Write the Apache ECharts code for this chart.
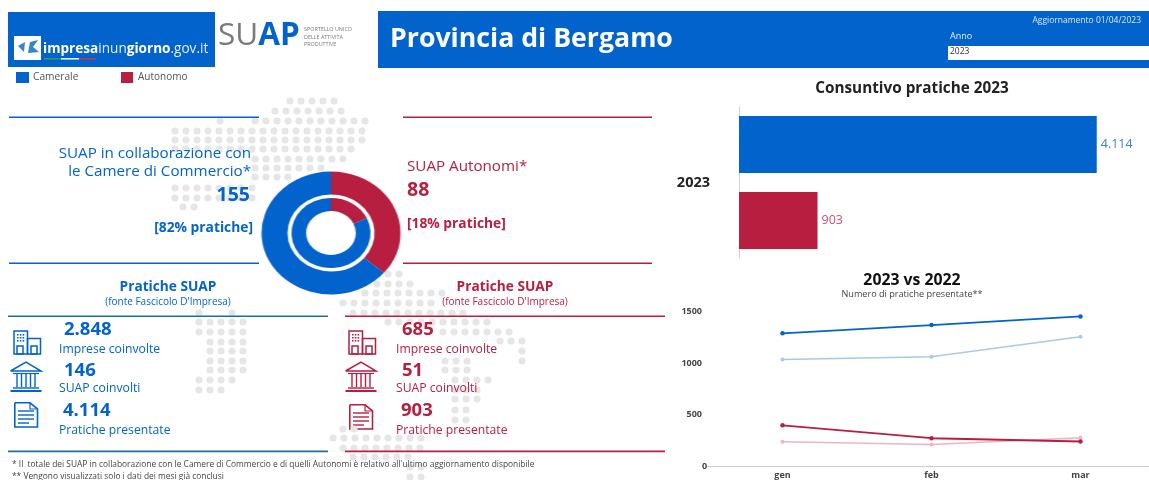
<!DOCTYPE html>
<html>
<head>
<meta charset="utf-8">
<title>Provincia di Bergamo</title>
<script src="https://cdn.jsdelivr.net/npm/echarts@6/dist/echarts.min.js"></script>
<style>
  html, body { margin: 0; padding: 0; background: #fff; overflow: hidden; }
  #page { position: relative; width: 1149px; height: 480px; overflow: hidden; filter: blur(0.35px); }
  /* a bit wider than the window: the last month band of the line chart runs off the edge */
  #main { position: absolute; left: 0; top: 0; width: 1200px; height: 480px; }
  /* the donut in the reference is stretched sideways */
  #donut { position: absolute; left: 265.5px; top: 167.5px; width: 130px; height: 130px; transform: scaleX(1.13); }
</style>
</head>
<body>
<div id="page">
  <div id="main"></div>
  <div id="donut"></div>
</div>
<script>
// ========== data ==========
const enteNames = ['Autonomo', 'Camerale']
const suapCount = [88, 155]
const praticheTotal = [903, 4114]
const impreseCoinvolte = [685, 2848]
const suapCoinvolti = [51, 146]
const percentPratiche = [18, 82]

const months = ['gen', 'feb', 'mar']
const camerale2023 = [1290, 1370, 1454]
const camerale2022 = [1035, 1061, 1257]
const autonomo2023 = [395, 270, 238]
const autonomo2022 = [236, 210, 275]
const lineTicks = { min: 0, max: 1500, interval: 500 }

const BLUE = '#0363cc'
const RED = '#b71e3f'
const FONT = '"Open Sans", "Noto Sans", sans-serif'

// background dot map: [y, first x, number of dots]
const dotRows = [
  [101, 290, 5], [111, 275, 7], [121, 220, 1], [121, 255, 11],
  [131, 175, 18], [140, 175, 18], [149, 175, 17], [159, 255, 9],
  [168, 255, 7], [177, 255, 4], [188, 175, 8], [198, 175, 8], [207, 183, 2],
  [274, 388, 2], [284, 377, 4], [293, 365, 8], [303, 343, 9], [313, 353, 11],
  [322, 388, 10], [332, 443, 7], [341, 500, 3], [351, 522, 1], [361, 522, 1],
  [361, 445, 3], [370, 445, 3], [380, 455, 4], [390, 455, 3], [399, 455, 3],
  [410, 455, 2], [420, 455, 2],
  [313, 199, 1], [313, 232, 1], [322, 199, 5], [332, 199, 5], [342, 210, 4],
  [351, 210, 4], [361, 210, 4], [370, 210, 4], [380, 199, 4], [390, 199, 3],
  [429, 343, 2], [438, 333, 9], [448, 343, 8], [457, 353, 6], [467, 410, 2], [477, 410, 2],
]

// 2848 -> 2.848
function fmt(n) {
  return String(n).replace(/\B(?=(\d{3})+$)/g, '.')
}

// ========== graphic helpers ==========
function txt(x, y, text, size, color, opts = {}) {
  return {
    type: 'text',
    x,
    y: y + 1,
    z: opts.z || 5,
    silent: true,
    style: {
      text,
      fontFamily: FONT,
      fontSize: size,
      fontWeight: opts.weight || 'normal',
      fill: color,
      align: opts.align || 'left',
      verticalAlign: 'middle',
      rich: opts.rich,
    },
  }
}

function box(x, y, w, h, color) {
  return { type: 'rect', z: 3, silent: true, shape: { x, y, width: w, height: h }, style: { fill: color } }
}

function outline(x, y, w, h, color, lw = 1.5) {
  return { type: 'rect', silent: true, shape: { x, y, width: w, height: h }, style: { fill: 'none', stroke: color, lineWidth: lw } }
}

function segment(x1, y1, x2, y2, color, lw = 1.5) {
  return { type: 'line', silent: true, shape: { x1, y1, x2, y2 }, style: { stroke: color, lineWidth: lw } }
}

function buildingIcon(x, y, color) {
  const windows = []
  for (let r = 0; r < 3; r++) {
    for (let c = 0; c < 3; c++) {
      windows.push(box(3 + c * 2.8, 3 + r * 3, 1.6, 1.6, color))
    }
  }
  return {
    type: 'group', x, y, z: 4,
    children: [
      outline(0, 0, 13.5, 23, color),
      outline(13.5, 7.5, 13, 15.5, color),
      outline(3, 15, 6, 8, color),
      outline(17, 15, 6, 8, color),
      ...windows,
    ],
  }
}

function templeIcon(x, y, color) {
  const columns = [7, 11.5, 16, 20.5, 25].map((cx) => segment(cx, 13, cx, 26, color, 1.4))
  return {
    type: 'group', x, y, z: 4,
    children: [
      { type: 'polyline', silent: true, shape: { points: [[0.5, 10], [16, 1], [31, 10], [0.5, 10]] }, style: { fill: 'none', stroke: color, lineWidth: 1.5 } },
      segment(3, 12.5, 29, 12.5, color, 1.2),
      ...columns,
      segment(3, 27, 29, 27, color, 1.4),
      segment(0.5, 30, 31.5, 30, color, 2),
    ],
  }
}

function docIcon(x, y, color) {
  const rows = [9, 13, 17, 21].map((ly, i) => segment(4, ly, i === 3 ? 15 : 20, ly, color, 1.4))
  return {
    type: 'group', x, y, z: 4,
    children: [
      { type: 'polyline', silent: true, shape: { points: [[0.8, 0.8], [16, 0.8], [23.5, 7], [23.5, 25], [0.8, 25], [0.8, 0.8]] }, style: { fill: 'none', stroke: color, lineWidth: 1.6 } },
      { type: 'polyline', silent: true, shape: { points: [[16, 0.8], [16, 7], [23.5, 7]] }, style: { fill: 'none', stroke: color, lineWidth: 1.2 } },
      ...rows,
    ],
  }
}

function statBlock(color, titleX, lineX, numX, labelX, iconX, idx) {
  return [
    txt(titleX, 286, 'Pratiche SUAP', 13.7, color, { weight: 'bold', align: 'center' }),
    txt(titleX, 301, "(fonte Fascicolo D'Impresa)", 10, color, { align: 'center' }),
    box(lineX, 315.5, 320, 1.4, idx === 1 ? '#1f7099' : RED),
    box(lineX, 450.5, 320, 1.8, idx === 1 ? '#1f7099' : RED),
    txt(numX, 329, fmt(impreseCoinvolte[idx]), 18.5, color, { weight: 'bold' }),
    txt(labelX, 349, 'Imprese coinvolte', 12.2, color),
    txt(numX, 370, fmt(suapCoinvolti[idx]), 18.5, color, { weight: 'bold' }),
    txt(labelX, 388, 'SUAP coinvolti', 12.2, color),
    txt(numX - 1, 410, fmt(praticheTotal[idx]), 18.5, color, { weight: 'bold' }),
    txt(labelX, 430, 'Pratiche presentate', 12.2, color),
    buildingIcon(iconX + 4, 331, color),
    templeIcon(iconX, 361, color),
    docIcon(iconX + 4, idx === 1 ? 402 : 404, color),
  ]
}

// ========== page furniture ==========
const dots = []
dotRows.forEach(([y, x0, n]) => {
  for (let i = 0; i < n; i++) {
    dots.push({ type: 'circle', z: 1, silent: true, shape: { cx: x0 + i * 11, cy: y, r: 3.6 }, style: { fill: '#e6e6e6' } })
  }
})

const header = [
  box(8, 12, 207, 55, BLUE),
  box(14, 36, 27, 24, '#fff'),
  { type: 'polygon', z: 4, silent: true, shape: { points: [[18, 46], [25, 42], [24, 52]] }, style: { fill: '#2f86c9' } },
  { type: 'polygon', z: 4, silent: true, shape: { points: [[28, 53], [30, 42], [38, 40], [33, 47], [39, 52]] }, style: { fill: '#2f86c9' } },
  txt(43, 48, '{b|impresa}{n|inun}{b|giorno}{n|.gov.it}', 13.6, '#fff', {
    rich: {
      b: { fontFamily: FONT, fontSize: 13.6, fontWeight: 'bold', fill: '#fff' },
      n: { fontFamily: FONT, fontSize: 13.6, fill: '#e3eefa' },
    },
  }),
  box(44, 58, 17, 1.6, '#2e9a5a'),
  box(61, 58, 18, 1.6, '#e8eef5'),
  box(79, 58, 17, 1.6, '#c23a48'),
  txt(218, 35, '{g|SU}{c|AP}', 31.5, '#777', {
    rich: {
      g: { fontFamily: FONT, fontSize: 31.5, fill: '#7a7a7a' },
      c: { fontFamily: FONT, fontSize: 31.5, fontWeight: 'bold', fill: BLUE },
    },
  }),
  txt(304, 28, 'SPORTELLO UNICO', 5.4, '#777'),
  txt(304, 36, 'DELLE ATTIVITÀ', 5.4, '#777'),
  txt(304, 43, 'PRODUTTIVE', 5.4, '#777'),
  box(16, 72, 13, 11, BLUE),
  txt(33, 76, 'Camerale', 10.2, '#555'),
  box(121, 72, 12, 11, RED),
  txt(138, 76, 'Autonomo', 10, '#555'),
  box(378, 11, 771, 57, BLUE),
  txt(390, 38, 'Provincia di Bergamo', 26.7, '#fff', { weight: 'bold' }),
  txt(1141, 20, 'Aggiornamento 01/04/2023', 8.5, '#d8e7f8', { align: 'right' }),
  txt(950, 35, 'Anno', 9, '#e8f0fa'),
  box(948, 46, 201, 14, '#fff'),
  txt(950, 51, '2023', 8.5, '#333'),
]

const kpi = [
  box(9, 116.5, 250, 1.4, BLUE),
  box(9, 262.5, 250, 1.6, BLUE),
  box(403, 116.5, 249, 1.4, RED),
  box(403, 262.5, 249, 1.6, RED),
  txt(251, 153, 'SUAP in collaborazione con', 15.2, BLUE, { align: 'right' }),
  txt(251, 171, 'le Camere di Commercio*', 15.2, BLUE, { align: 'right' }),
  txt(250, 194, String(suapCount[1]), 19.5, BLUE, { weight: 'bold', align: 'right' }),
  txt(253, 227, `[${percentPratiche[1]}% pratiche]`, 13.8, BLUE, { weight: 'bold', align: 'right' }),
  txt(407, 166, 'SUAP Autonomi*', 15.2, RED),
  txt(407, 189, String(suapCount[0]), 19.5, RED, { weight: 'bold' }),
  txt(407, 223, `[${percentPratiche[0]}% pratiche]`, 13.8, RED, { weight: 'bold' }),
]

const rightTitles = [
  txt(912, 88, 'Consuntivo pratiche 2023', 15.3, '#222', { weight: 'bold', align: 'center' }),
  txt(912, 279, '2023 vs 2022', 15.8, '#111', { weight: 'bold', align: 'center' }),
  txt(912, 293, 'Numero di pratiche presentate**', 9.1, '#444', { align: 'center' }),
]

const footnotes = [
  txt(12, 464, "* Il  totale dei SUAP in collaborazione con le Camere di Commercio e di quelli Autonomi è relativo all'ultimo aggiornamento disponibile", 8.4, '#444'),
  txt(12, 476, '** Vengono visualizzati solo i dati dei mesi già conclusi', 8.4, '#444'),
]

// ========== main chart: bars + lines ==========
const main = echarts.init(document.getElementById('main'), null, { renderer: 'canvas' })

function lineSeries(name, values, color, width, size) {
  return {
    name,
    type: 'line',
    xAxisIndex: 1,
    yAxisIndex: 1,
    data: values,
    symbol: 'circle',
    symbolSize: size,
    z: 6,
    lineStyle: { color, width },
    itemStyle: { color },
  }
}

function barSeries(name, value, color, labelColor) {
  return {
    name,
    type: 'bar',
    data: [value],
    barWidth: 57,
    barGap: '33%',
    z: 6,
    itemStyle: { color },
    label: {
      show: true,
      position: 'right',
      distance: 4,
      fontFamily: FONT,
      fontSize: 12.5,
      color: labelColor,
      textBorderWidth: 0,
      formatter: (p) => fmt(p.value),
    },
  }
}

main.setOption({
  animation: false,
  grid: [
    { left: 739, top: 107, width: 400, height: 151 },
    { left: 708, top: 311.7, width: 447, height: 155 },
  ],
  xAxis: [
    { type: 'value', gridIndex: 0, min: 0, max: 4600, show: false },
    {
      type: 'category',
      gridIndex: 1,
      data: months,
      axisTick: { show: false },
      axisLine: { lineStyle: { color: '#c4c4c4', type: 'dotted' } },
      axisLabel: { fontFamily: FONT, fontSize: 9, fontWeight: 'bold', color: '#444', margin: 5 },
    },
  ],
  yAxis: [
    {
      type: 'category',
      gridIndex: 0,
      inverse: true,
      data: ['2023'],
      axisTick: { show: false },
      axisLine: { lineStyle: { color: '#c8c8c8', type: 'dotted' } },
      axisLabel: { fontFamily: FONT, fontSize: 14.5, fontWeight: 'bold', color: '#222', margin: 29 },
    },
    {
      type: 'value',
      gridIndex: 1,
      min: lineTicks.min,
      max: lineTicks.max,
      interval: lineTicks.interval,
      splitLine: { show: false },
      axisLine: { show: false },
      axisTick: { show: false },
      axisLabel: {
        fontFamily: FONT,
        fontSize: 9,
        fontWeight: 'bold',
        color: '#444',
        margin: 6,
        alignMinLabel: 'bottom',
        formatter: (v) => String(v),
      },
    },
  ],
  series: [
    barSeries(enteNames[1], praticheTotal[1], BLUE, '#3f7fd2'),
    barSeries(enteNames[0], praticheTotal[0], RED, '#c9526f'),
    lineSeries('Camerale 2022', camerale2022, '#a9c9ea', 1.5, 4),
    lineSeries('Autonomo 2022', autonomo2022, '#eeb4c3', 1.5, 4),
    lineSeries('Camerale 2023', camerale2023, BLUE, 1.8, 4.5),
    lineSeries('Autonomo 2023', autonomo2023, RED, 1.8, 4.5),
  ],
  graphic: [
    ...dots,
    ...header,
    ...kpi,
    ...statBlock(BLUE, 168, 8, 64, 59, 10, 1),
    ...statBlock(RED, 505, 345, 402, 396, 345, 0),
    ...rightTitles,
    ...footnotes,
  ],
})

// ========== donut ==========
const donut = echarts.init(document.getElementById('donut'))

function ringData(values) {
  return [
    { name: enteNames[0], value: values[0], itemStyle: { color: RED } },
    { name: enteNames[1], value: values[1], itemStyle: { color: BLUE } },
  ]
}

donut.setOption({
  animation: false,
  graphic: [{ type: 'circle', silent: true, shape: { cx: 65, cy: 65, r: 61 }, style: { fill: '#fff' } }],
  series: [
    {
      type: 'pie',
      radius: [38.5, 61.5],
      center: [65, 65],
      startAngle: 90,
      silent: true,
      label: { show: false },
      data: ringData(suapCount),
    },
    {
      type: 'pie',
      radius: [22, 35],
      center: [65, 65],
      startAngle: 90,
      silent: true,
      label: { show: false },
      data: ringData(praticheTotal),
    },
  ],
})
</script>
</body>
</html>
